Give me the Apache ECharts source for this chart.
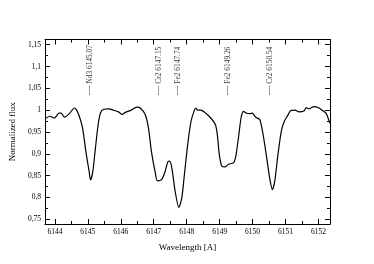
<!DOCTYPE html>
<html><head><meta charset="utf-8">
<script src="https://cdn.jsdelivr.net/npm/echarts@6/dist/echarts.min.js"></script>
<style>html,body{margin:0;padding:0;background:#fff}#c{width:374px;height:264px}</style>
</head><body><div id="c"></div>
<script>
const wavelength = [6143.70,6143.84,6143.99,6144.12,6144.19,6144.29,6144.44,6144.59,6144.66,6144.74,6144.84,6144.94,6145.04,6145.08,6145.15,6145.23,6145.31,6145.38,6145.48,6145.63,6145.78,6145.93,6146.04,6146.14,6146.29,6146.49,6146.59,6146.74,6146.84,6146.93,6147.04,6147.11,6147.23,6147.33,6147.43,6147.48,6147.55,6147.65,6147.76,6147.85,6147.93,6148.03,6148.13,6148.23,6148.28,6148.33,6148.43,6148.58,6148.73,6148.87,6148.93,6148.99,6149.07,6149.17,6149.27,6149.42,6149.49,6149.57,6149.65,6149.72,6149.82,6149.92,6149.99,6150.09,6150.22,6150.32,6150.42,6150.52,6150.60,6150.67,6150.77,6150.87,6150.96,6151.06,6151.16,6151.29,6151.41,6151.56,6151.63,6151.71,6151.86,6151.99,6152.11,6152.23,6152.31,6152.35];
const flux = [0.980,0.986,0.982,0.993,0.993,0.984,0.992,1.005,1.000,0.986,0.959,0.905,0.859,0.840,0.859,0.913,0.966,0.993,1.002,1.003,1.000,0.996,0.990,0.995,0.999,1.007,1.005,0.990,0.959,0.905,0.859,0.838,0.840,0.856,0.882,0.883,0.867,0.814,0.777,0.798,0.852,0.921,0.974,0.999,1.005,1.000,1.000,0.993,0.982,0.967,0.944,0.898,0.871,0.870,0.876,0.879,0.894,0.936,0.982,0.997,0.993,0.992,0.993,0.984,0.978,0.944,0.895,0.844,0.818,0.836,0.898,0.951,0.974,0.987,0.999,1.000,0.996,0.998,1.006,1.003,1.008,1.006,1.000,0.993,0.978,0.970];
const lineNames = ["Nd3 6145.07","Cr2 6147.15","Fe2 6147.74","Fe2 6149.26","Cr2 6150.54"];
const linePositions = [6145.07,6147.15,6147.74,6149.26,6150.54];
const labelBaseFlux = 1.034;

const FONT = "Liberation Serif";
const xMin = 6143.7, xMax = 6152.35, yMin = 0.739, yMax = 1.162;
const black = '#000';
function xAx(pos, showLabel, minor) {
  return {
    type:'value', position:pos, min:xMin, max:xMax, splitNumber: minor ? 17 : 8,
    axisLine:{show:!minor, lineStyle:{color:black,width:1}},
    axisTick:{show:true, inside:true, length: minor?3:5, lineStyle:{color:black,width:1}},
    axisLabel:{show:showLabel, showMinLabel:false, showMaxLabel:false, color:black, fontFamily:FONT, fontSize:7.5, margin:4,
      formatter: v => String(Math.round(v))},
    splitLine:{show:false}
  };
}
function yAx(pos, showLabel) {
  return {
    type:'value', position:pos, min:yMin, max:yMax, splitNumber:8,
    axisLine:{show:true, lineStyle:{color:black,width:1}},
    axisTick:{show:true, inside:true, length:5, lineStyle:{color:black,width:1}},
    minorTick:{show:true, splitNumber:2, length:3, lineStyle:{color:black,width:1}},
    axisLabel:{show:showLabel, showMinLabel:false, showMaxLabel:false, color:black, fontFamily:FONT, fontSize:7.5, margin:4,
      formatter: v => String(+v.toFixed(3)).replace('.', ',')},
    splitLine:{show:false}
  };
}
const xb = xAx('bottom', true, false);
xb.name = 'Wavelength [A]'; xb.nameLocation = 'middle'; xb.nameGap = 19;
xb.nameTextStyle = {color:black, fontFamily:FONT, fontSize:9};
const yl = yAx('left', true);
yl.name = 'Normalized flux'; yl.nameLocation = 'middle'; yl.nameGap = 22;
yl.nameTextStyle = {color:black, fontFamily:FONT, fontSize:9};

const chart = echarts.init(document.getElementById('c'), null, {renderer:'canvas'});
chart.setOption({
  animation:false,
  backgroundColor:'#fff',
  grid:{left:40, right:44, top:39.5, bottom:40, containLabel:false},
  xAxis:[xb, xAx('bottom', false, true), xAx('top', false, false), xAx('top', false, true)],
  yAxis:[yl, yAx('right', false)],
  series:[
    {type:'line', xAxisIndex:0, yAxisIndex:0, data: wavelength.map((w,i)=>[w, flux[i]]),
     showSymbol:false, smooth:0.25, lineStyle:{color:black, width:1.2}, itemStyle:{color:black}},
    {type:'scatter', xAxisIndex:0, yAxisIndex:0, symbolSize:0,
     data: linePositions.map((p,i)=>({value:[p, labelBaseFlux], name:lineNames[i]})),
     label:{show:true, position:[0,0], rotate:90, align:'left', verticalAlign:'middle',
       formatter: p => '---- ' + p.name, color:black, fontFamily:FONT, fontSize:7.4}}
  ]
});
</script></body></html>
